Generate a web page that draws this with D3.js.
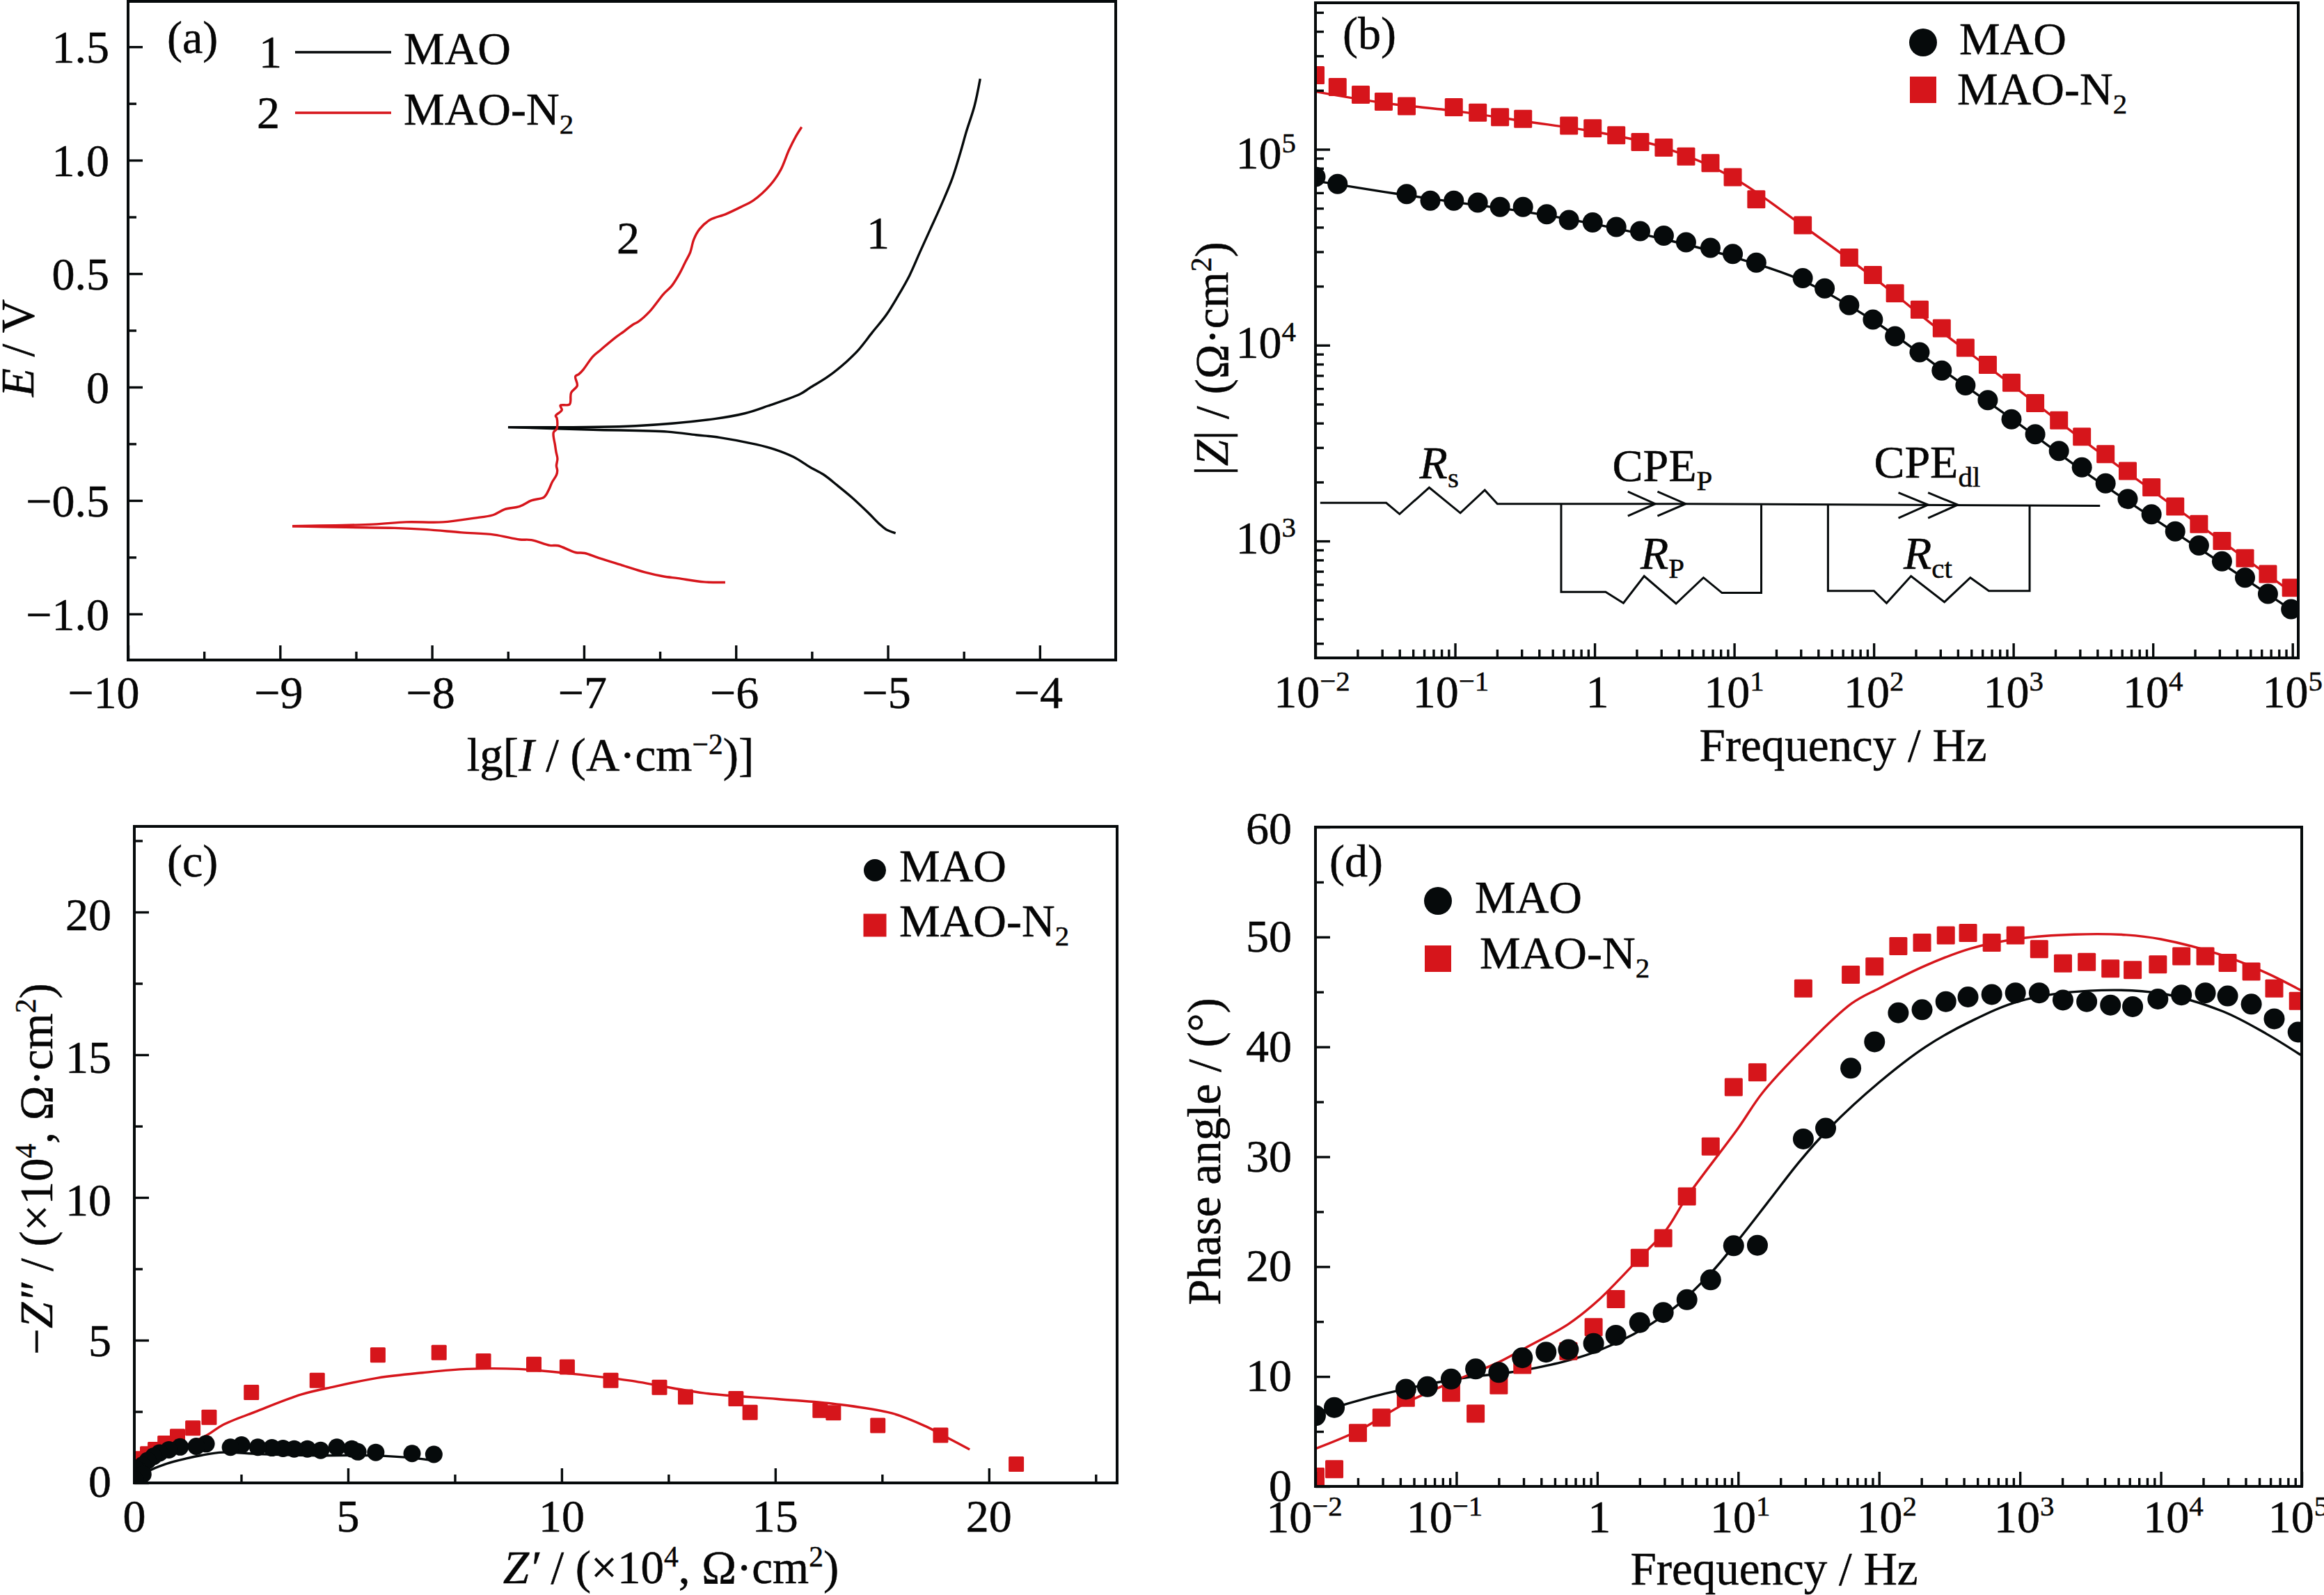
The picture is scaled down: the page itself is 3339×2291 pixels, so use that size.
<!DOCTYPE html>
<html><head><meta charset="utf-8">
<script src="https://cdn.jsdelivr.net/npm/d3@7"></script>
<style>html,body{margin:0;padding:0;background:#fff}svg{display:block}text{font-family:"Liberation Serif",serif;fill:#060606;stroke:#060606;stroke-width:0.5px}</style>
</head><body><svg id="c" width="3339" height="2291"></svg>
<script>
// ---------- panel (a) polarization ----------
const aMaoAnodicI=[-7.499,-6.659,-6.14,-5.941,-5.789,-5.575,-5.514,-5.392,-5.27,-5.193,-5.102,-5.01,-4.934,-4.857,-4.789,-4.72,-4.644,-4.575,-4.522,-4.483,-4.43,-4.392];
const aMaoAnodicE=[-0.177,-0.171,-0.14,-0.116,-0.083,-0.03,-0.004,0.047,0.113,0.164,0.241,0.318,0.4,0.492,0.594,0.696,0.809,0.921,1.034,1.126,1.238,1.359];
const aMaoCathodicI=[-7.499,-6.94,-6.45,-6.262,-6.109,-5.865,-5.743,-5.621,-5.514,-5.422,-5.331,-5.239,-5.132,-5.056,-5.01,-4.949];
const aMaoCathodicE=[-0.177,-0.188,-0.197,-0.211,-0.222,-0.253,-0.275,-0.308,-0.352,-0.386,-0.434,-0.485,-0.552,-0.603,-0.628,-0.644];
const aN2AnodicI=[-8.919,-8.384,-8.171,-7.927,-7.728,-7.598,-7.522,-7.423,-7.346,-7.262,-7.232,-7.209,-7.181,-7.175,-7.181,-7.174,-7.183,-7.19,-7.2,-7.178,-7.178,-7.186,-7.145,-7.155,-7.094,-7.084,-7.044,-7.056,-7.033,-7.003,-6.942,-6.888,-6.797,-6.735,-6.674,-6.644,-6.567,-6.476,-6.422,-6.369,-6.331,-6.3,-6.277,-6.239,-6.17,-6.064,-5.957,-5.888,-5.773,-5.705,-5.651,-5.605,-5.567];
const aN2AnodicE=[-0.613,-0.605,-0.595,-0.595,-0.578,-0.564,-0.539,-0.526,-0.5,-0.485,-0.454,-0.419,-0.388,-0.368,-0.347,-0.316,-0.286,-0.255,-0.2,-0.183,-0.137,-0.127,-0.101,-0.081,-0.076,-0.025,0.006,0.047,0.057,0.078,0.134,0.165,0.216,0.246,0.277,0.287,0.333,0.41,0.446,0.502,0.553,0.594,0.65,0.696,0.737,0.763,0.797,0.821,0.891,0.957,1.044,1.105,1.146];
const aN2CathodicI=[-8.919,-8.568,-8.247,-8.033,-7.804,-7.59,-7.422,-7.346,-7.224,-7.17,-7.056,-6.995,-6.903,-6.75,-6.6,-6.48,-6.38,-6.21,-6.07];
const aN2CathodicE=[-0.613,-0.618,-0.621,-0.628,-0.641,-0.651,-0.672,-0.674,-0.698,-0.699,-0.729,-0.732,-0.753,-0.785,-0.816,-0.834,-0.843,-0.859,-0.861];
const aXTicks=[-10,-9,-8,-7,-6,-5,-4];
const aXMinor=[-9.5,-8.5,-7.5,-6.5,-5.5,-4.5];
const aYTicks=[-1,-0.5,0,0.5,1,1.5];
const aYMinor=[-0.75,-0.25,0.25,0.75,1.25];
// ---------- panel (b) |Z| ----------
const bMaoF=[0.01,0.0144,0.045,0.0665,0.098,0.1455,0.21,0.307,0.454,0.655,0.968,1.43,2.12,3.13,4.52,6.76,9.77,14.4,31,44.5,66.7,98.6,142,213,307,454,656,970,1435,2123,3100,4580,6600,9770,14450,21380,31260,45700,66700,97700];
const bMaoZ=[72400,66600,59100,54700,54700,53400,50800,50800,46600,43600,42300,40100,38200,36200,33500,31400,29200,26400,22000,19500,16000,13500,11100,9200,7420,6240,5240,4180,3510,2880,2380,1970,1640,1370,1120,948,787,650,537,449];
const bN2F=[0.01,0.0144,0.0211,0.0308,0.045,0.098,0.1455,0.21,0.307,0.655,0.968,1.43,2.12,3.13,4.52,6.76,9.77,14.4,31,66.7,98.6,142,213,307,454,656,970,1435,2123,3100,4580,6600,9770,14450,21380,31260,45700,66700,97700];
const bN2Z=[239000,208000,190000,175000,166000,164000,154000,146000,143000,132000,128000,118000,109000,102000,92000,85000,72000,55600,41000,28000,22800,18400,15200,12200,9700,7930,6430,5060,4130,3410,2780,2280,1880,1500,1220,1000,817,678,577];
const bFitF=[0.01,0.0316,0.1,0.316,1,3.16,10,31.6,100,316,1000,3160,10000,31600,100000];
const bFitMao=[69000,60500,53700,48000,41500,34700,28100,21200,13300,7410,4150,2280,1310,764,441];
const bFitN2=[197000,172000,157000,139000,123000,102000,71100,40300,22100,11500,6190,3270,1800,989,543];
// ---------- panel (c) Nyquist ----------
const cN2Re=[20.64,18.87,17.4,16.36,16.05,14.41,14.08,12.9,12.29,11.15,10.13,9.35,8.17,7.13,5.7,4.28,2.74,1.75,1.37,1.01,0.72,0.49,0.31,0.15,0.03];
const cN2Im=[0.66,1.67,2.01,2.46,2.54,2.47,2.95,3.01,3.35,3.59,4.06,4.15,4.27,4.57,4.48,3.59,3.17,2.3,1.92,1.63,1.39,1.17,1.02,0.85,0.73];
const cMaoRe=[7.01,6.5,5.65,5.23,5.09,4.74,4.36,4.05,3.74,3.48,3.22,2.89,2.51,2.25,1.68,1.45,1.07,0.81,0.59,0.45,0.31,0.19,0.1,0.03,0.03,0.2,0.02];
const cMaoIm=[1,1.03,1.07,1.09,1.19,1.25,1.14,1.19,1.19,1.21,1.23,1.25,1.33,1.25,1.37,1.28,1.26,1.16,1.05,0.93,0.78,0.62,0.44,0.27,0.48,0.3,0.1];
const cFitN2Re=[0,0.3,1,1.74,2.07,2.83,3.91,4.67,5.7,6.74,7.78,8.99,10.2,11.58,13.32,15.05,16.43,17.73,18.51,19.12,19.55];
const cFitN2Im=[0.05,0.5,1.15,1.71,2.03,2.49,3.1,3.37,3.68,3.86,3.99,3.99,3.83,3.59,3.15,2.94,2.76,2.44,1.99,1.51,1.17];
const cFitMaoRe=[0,0.33,0.71,1.2,1.58,2.07,2.93,4.14,5.52,6.56,7.01];
const cFitMaoIm=[0,0.41,0.65,0.85,0.97,1.07,1.01,0.96,0.96,0.87,0.78];
const cTicks=[0,5,10,15,20];
const cMinor=[2.5,7.5,12.5,17.5,22.5];
// ---------- panel (d) phase ----------
const dMaoF=[0.01,0.0136,0.0438,0.0623,0.0918,0.137,0.2,0.294,0.433,0.624,0.942,1.355,2,2.94,4.33,6.38,9.29,13.7,29,41.8,63,92.9,137,202,298,428,631,929,1370,2020,2980,4390,6310,9530,14000,20700,29800,43900,63800,94200];
const dMaoP=[6.44,7.18,8.84,9.07,9.77,10.69,10.37,11.71,12.22,12.45,13.01,13.75,14.91,15.83,16.99,18.8,21.9,21.94,31.62,32.59,38.06,40.46,43.1,43.38,44.12,44.54,44.77,44.91,44.91,44.26,44.12,43.8,43.66,44.35,44.72,44.91,44.63,43.89,42.55,41.34];
const dN2F=[0.01,0.0136,0.02,0.0294,0.0438,0.0918,0.137,0.2,0.294,0.624,0.942,1.355,2,2.94,4.33,6.38,9.29,13.7,29,63,92.9,137,202,298,428,631,929,1370,2020,2980,4390,6310,9530,14000,20700,29800,43900,63800,94200];
const dN2P=[0.88,1.57,4.86,6.25,8.06,8.52,6.62,9.21,11.06,12.31,14.49,17.04,20.79,22.59,26.39,30.93,36.34,37.69,45.32,46.57,47.31,49.17,49.49,50.14,50.37,49.49,50.14,48.89,47.59,47.73,47.13,46.99,47.5,48.24,48.24,47.64,46.85,45.32,44.17];
const dFitMaoF=[0.01,0.0136,0.0309,0.1,0.309,1,3.08,6.38,10,16.8,27.4,44.4,100,214,444,1000,3100,10000,27400,56600,100000];
const dFitMaoP=[6.67,7.18,8.43,9.77,10.6,12.31,15.69,19.4,22.4,26.1,29.6,32.6,36.76,40,42.3,44.17,45.1,44.86,43.24,41.16,39.2];
const dFitN2F=[0.01,0.02,0.0438,0.1,0.2,0.309,0.624,1,2,3.08,4.33,10,14.9,29.8,63.8,100,214,444,1000,2420,5660,10000,27400,56600,100000];
const dFitN2P=[3.43,5.05,7.59,9.68,11.3,12.6,14.77,16.85,20.79,23.33,26.34,32.6,35.83,40,43.94,45.32,47.4,48.94,49.86,50.23,50.19,49.8,48.33,46.7,45.1];
const dTicks=[0,10,20,30,40,50,60];
const dMinor=[5,15,25,35,45,55];
const freqTicks=[0.01,0.1,1,10,100,1000,10000,100000];
const impedanceTicks=[1000,10000,100000];
const seriesNames=["MAO","MAO-N","2"];

const RED="#d6151b",BLK="#060a0b",FS=66,LFS=67,AX=4,MAJ=21,MIN=12;
const svg=d3.select("#c");
const zip=(a,b)=>a.map((v,i)=>[v,b[i]]);
const smooth=d3.curveCatmullRom.alpha(0.5);

function rich(g,x,y,runs,o={}){
  const fs=o.fs||FS;
  const t=g.append("text").attr("x",x).attr("y",y).attr("font-size",fs).attr("text-anchor",o.anchor||"start");
  if(o.rot)t.attr("transform",`rotate(-90 ${x} ${y})`);
  let shift=0;
  runs.forEach(r=>{
    const [s,f=""]=Array.isArray(r)?r:[r];
    const target=f.includes("u")?-fs*0.36:f.includes("d")?fs*0.2:0;
    const ts=t.append("tspan").text(s).attr("dy",target-shift);
    shift=target;
    if(f.includes("i"))ts.attr("font-style","italic");
    if(f.includes("u")||f.includes("d"))ts.attr("font-size",fs*0.62);
  });
  return t;
}
const powRuns=v=>{const e=Math.round(Math.log10(v));return e===0?["1"]:["10",[String(e).replace("-","\u2212"),"u"]];};
const decFmt=(v,d)=>v===0?"0":(v<0?"\u2212":"")+Math.abs(v).toFixed(d);

function frame(id,L,R,T,B,xS,yS){
  const g=svg.append("g");
  svg.append("defs").append("clipPath").attr("id",id).append("rect").attr("x",L).attr("y",T).attr("width",R-L).attr("height",B-T);
  const plot=g.append("g").attr("clip-path",`url(#${id})`);
  return {g,plot,L,R,T,B,xS,yS};
}
function axes(p,xMaj,xMin,yMaj,yMin,xLab,yLab,xBase,yEnd,xOff,yOff){
  const {g,L,R,T,B,xS,yS}=p;
  const style=s=>{s.select(".domain").remove();s.selectAll("line").attr("stroke",BLK).attr("stroke-width",3.4);s.selectAll("text").remove();};
  g.append("g").attr("transform",`translate(0,${B})`).call(d3.axisBottom(xS).tickValues(xMin).tickSize(-MIN).tickFormat("")).call(style);
  g.append("g").attr("transform",`translate(0,${B})`).call(d3.axisBottom(xS).tickValues(xMaj).tickSize(-MAJ).tickFormat("")).call(style);
  g.append("g").attr("transform",`translate(${L},0)`).call(d3.axisLeft(yS).tickValues(yMin).tickSize(-MIN).tickFormat("")).call(style);
  g.append("g").attr("transform",`translate(${L},0)`).call(d3.axisLeft(yS).tickValues(yMaj).tickSize(-MAJ).tickFormat("")).call(style);
  g.append("rect").attr("x",L).attr("y",T).attr("width",R-L).attr("height",B-T).attr("fill","none").attr("stroke",BLK).attr("stroke-width",AX);
  xMaj.forEach((v,i)=>rich(g,xS(v)+xOff(i),xBase,xLab(v),{anchor:"middle"}));
  yMaj.forEach((v,i)=>rich(g,yEnd,yS(v)+yOff(v),yLab(v),{anchor:"end"}));
}
const lineGen=(x,y,c)=>d3.line().x(d=>x(d[0])).y(d=>y(d[1])).curve(c||d3.curveLinear);
function drawLine(p,pts,col,w,c){p.plot.append("path").attr("d",lineGen(p.xS,p.yS,c)(pts)).attr("fill","none").attr("stroke",col).attr("stroke-width",w).attr("stroke-linejoin","round");}
function dots(p,pts,r){p.plot.append("g").selectAll("circle").data(pts).join("circle").attr("cx",d=>p.xS(d[0])).attr("cy",d=>p.yS(d[1])).attr("r",r).attr("fill",BLK);}
function squares(p,pts,w,h){p.plot.append("g").selectAll("rect").data(pts).join("rect").attr("x",d=>p.xS(d[0])-w/2).attr("y",d=>p.yS(d[1])-h/2).attr("width",w).attr("height",h).attr("rx",1.5).attr("fill",RED);}
function legendMarks(g,cx,cy1,cy2,r,s,tx1,ty1,tx2,ty2){
  g.append("circle").attr("cx",cx).attr("cy",cy1).attr("r",r).attr("fill",BLK);
  g.append("rect").attr("x",cx-s/2).attr("y",cy2-s/2).attr("width",s).attr("height",s).attr("fill",RED);
  rich(g,tx1,ty1,[seriesNames[0]]);
  rich(g,tx2,ty2,[seriesNames[1],[seriesNames[2],"d"]]);
}
const xMinorLog=[];for(let e=-2;e<5;e++)[2,3,4,5,6,7,8,9].forEach(m=>xMinorLog.push(m*10**e));

// ===== (a) =====
{
 const p=frame("ca",184,1603,2,948,d3.scaleLinear([-10,-3.5],[184,1603]),d3.scaleLinear([-1.2,1.7],[947,2]));
 drawLine(p,zip(aMaoAnodicI,aMaoAnodicE),BLK,3.4,smooth);
 drawLine(p,zip(aMaoCathodicI,aMaoCathodicE),BLK,3.4,smooth);
 drawLine(p,zip(aN2AnodicI,aN2AnodicE),RED,3.4,smooth);
 drawLine(p,zip(aN2CathodicI,aN2CathodicE),RED,3.4,smooth);
 axes(p,aXTicks,aXMinor,aYTicks,aYMinor,v=>[decFmt(v,0)],v=>[decFmt(v,1)],1017,157,i=>i===0?-35:-2,()=>23);
 const g=p.g;
 rich(g,240,76,["(a)"]);
 rich(g,372,97,["1"]); rich(g,369,184,["2"]);
 g.append("line").attr("x1",424).attr("x2",562).attr("y1",75).attr("y2",75).attr("stroke",BLK).attr("stroke-width",3.4);
 g.append("line").attr("x1",424).attr("x2",562).attr("y1",162).attr("y2",162).attr("stroke",RED).attr("stroke-width",3.4);
 rich(g,580,92,[seriesNames[0]]);
 rich(g,580,179,[seriesNames[1],[seriesNames[2],"d"]]);
 rich(g,886,364,["2"]); rich(g,1245,357,["1"]);
 rich(g,877,1107,["lg[",["I","i"]," / (A\u00b7cm",["\u22122","u"],")]"],{anchor:"middle",fs:LFS});
 rich(g,48,500,[["E","i"]," / V"],{anchor:"middle",rot:true,fs:LFS});
}
// ===== (b) =====
{
 const xs=d3.scaleLog([0.01,110000],[1890,3302]);
 const ys=d3.scaleLog([253,560000],[945,4]);
 const p=frame("cb",1890,3302,4,945,xs,ys);
 const yMin=[300,400,500,600,700,800,900,2000,3000,4000,5000,6000,7000,8000,9000,20000,30000,40000,50000,60000,70000,80000,90000,200000,300000,400000,500000];
 drawLine(p,zip(bFitF,bFitMao),BLK,3.4,d3.curveCatmullRom);
 drawLine(p,zip(bFitF,bFitN2),RED,3.4,d3.curveCatmullRom);
 dots(p,zip(bMaoF,bMaoZ),14.5);
 squares(p,zip(bN2F,bN2Z),26,26);
 const bXOff=[-5,-6,4,0,0,0,0,0];
 axes(p,freqTicks,xMinorLog,impedanceTicks,yMin,powRuns,powRuns,1016,1862,i=>bXOff[i],v=>v===100000?28:18);
 const g=p.g;
 rich(g,1929,70,["(b)"]);
 legendMarks(g,2763,61,129,20,38,2815,78,2812,150);
 const X=z=>1670+z*1.065,Y=z=>z*0.731;
 const wires=[
  [[213,988],[302,988],[320,1010],[360,958],[402,1008],[435,963],[452,990],[706,990],[1265,994]],
  [[538,990],[538,1163],[598,1163],[622,1185],[650,1132],[693,1186],[730,1135],[755,1165],[808,1165],[808,992]],
  [[898,992],[898,1161],[960,1161],[977,1185],[1010,1132],[1055,1183],[1090,1135],[1115,1161],[1170,1161],[1170,994]],
  [[628,966],[665,990],[628,1014]],[[668,966],[706,990],[668,1014]],
  [[993,968],[1033,992],[993,1018]],[[1033,968],[1073,992],[1033,1018]]];
 const ln=d3.line().x(d=>X(d[0])).y(d=>Y(d[1]));
 wires.forEach(w=>g.append("path").attr("d",ln(w)).attr("fill","none").attr("stroke",BLK).attr("stroke-width",3));
 rich(g,X(347),Y(940),[["R","i"],["s","d"]]);
 rich(g,X(607),Y(945),["CPE",["P","d"]]);
 rich(g,X(960),Y(938),["CPE",["dl","d"]]);
 rich(g,X(645),Y(1118),[["R","i"],["P","d"]]);
 rich(g,X(1000),Y(1118),[["R","i"],["ct","d"]]);
 rich(g,2648,1093,["Frequency / Hz"],{anchor:"middle",fs:LFS});
 rich(g,1764,515,["|",["Z","i"],"| / (\u03a9\u00b7cm",["2","u"],")"],{anchor:"middle",rot:true,fs:LFS});
}
// ===== (c) =====
{
 const xs=d3.scaleLinear([0,23],[193,1605]);
 const ys=d3.scaleLinear([0,23],[2130,1187]);
 const p=frame("cc",193,1605,1187,2130,xs,ys);
 drawLine(p,zip(cFitMaoRe,cFitMaoIm),BLK,3.4,d3.curveCatmullRom);
 drawLine(p,zip(cFitN2Re,cFitN2Im),RED,3.4,d3.curveCatmullRom);
 squares(p,zip(cN2Re,cN2Im),22,22);
 dots(p,zip(cMaoRe,cMaoIm),12.5);
 axes(p,cTicks,cMinor,cTicks,cMinor,v=>[String(v)],v=>[String(v)],2200,160,()=>0,v=>v===0?20:v===5?23:26);
 const g=p.g;
 rich(g,240,1259,["(c)"]);
 legendMarks(g,1257,1250,1329,16,33,1292,1266,1292,1345);
 rich(g,964,2274,[["Z\u2032","i"]," / (\u00d710",["4","u"],", \u03a9\u00b7cm",["2","u"],")"],{anchor:"middle",fs:LFS});
 rich(g,75,1679,["\u2212",["Z\u2033","i"]," / (\u00d710",["4","u"],", \u03a9\u00b7cm",["2","u"],")"],{anchor:"middle",rot:true,fs:LFS});
}
// ===== (d) =====
{
 const xs=d3.scaleLog([0.01,100000],[1890,3307]);
 const ys=d3.scaleLinear([0,60],[2135,1188]);
 const p=frame("cd",1890,3307,1188,2135,xs,ys);
 drawLine(p,zip(dFitMaoF,dFitMaoP),BLK,3.4,d3.curveCatmullRom);
 drawLine(p,zip(dFitN2F,dFitN2P),RED,3.4,d3.curveCatmullRom);
 squares(p,zip(dN2F,dN2P),26,26);
 dots(p,zip(dMaoF,dMaoP),15);
 const dXOff=[-16,-17,3,3,11,6,18,-5];
 axes(p,freqTicks,xMinorLog,dTicks,dMinor,powRuns,v=>[String(v)],2201,1856,i=>dXOff[i],v=>v===60?24:21);
 const g=p.g;
 rich(g,1910,1259,["(d)"]);
 legendMarks(g,2066,1294,1377,20,38,2119,1311,2126,1391);
 rich(g,2549,2276,["Frequency / Hz"],{anchor:"middle",fs:LFS});
 rich(g,1753,1654,["Phase angle / (\u00b0)"],{anchor:"middle",rot:true,fs:LFS});
}
</script></body></html>
